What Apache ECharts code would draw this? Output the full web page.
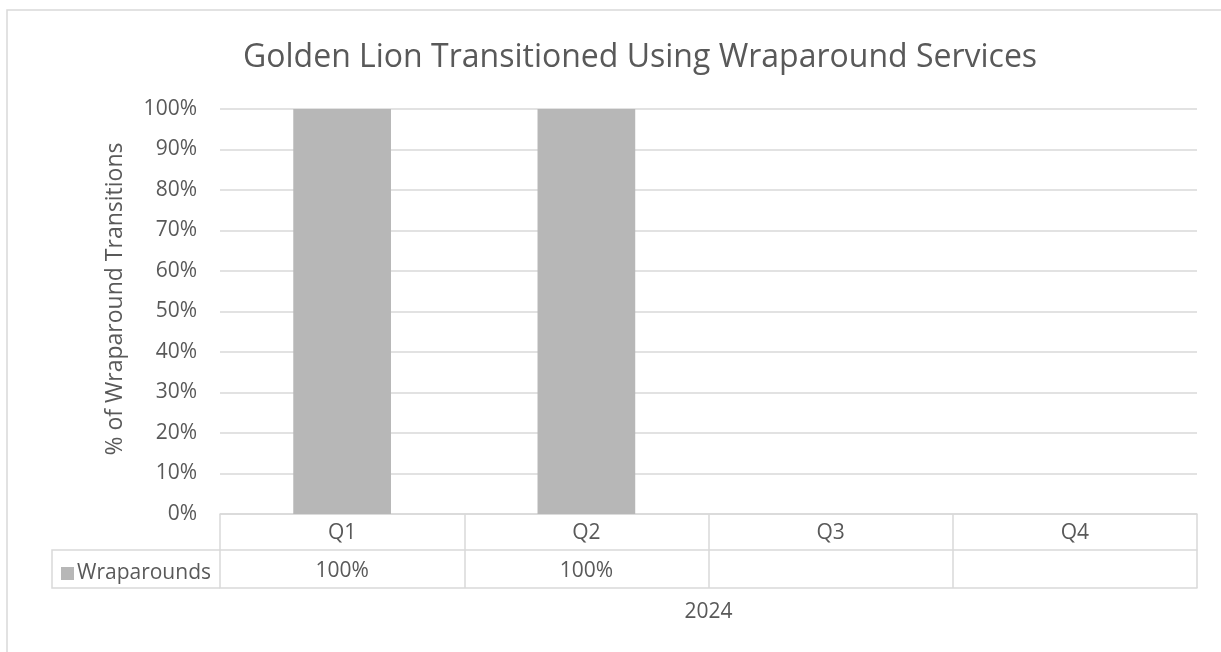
<!DOCTYPE html>
<html>
<head>
<meta charset="utf-8">
<script src="https://cdn.jsdelivr.net/npm/echarts@6/dist/echarts.min.js"></script>
<style>
html,body{margin:0;padding:0;background:#fff;}
#c{width:1221px;height:652px;}
</style>
</head>
<body>
<div id="c"></div>
<script>
const titleText = 'Golden Lion Transitioned Using Wraparound Services';
const categories = ['Q1', 'Q2', 'Q3', 'Q4'];
const seriesName = 'Wraparounds';
const wraparoundValues = [100, 100, null, null];
const yTicks = [0, 10, 20, 30, 40, 50, 60, 70, 80, 90, 100];
const groupLabel = '2024';
const yAxisTitle = '% of Wraparound Transitions';

const FONT = '"Open Sans", sans-serif';
const TXT = '#595959';
const LINE = '#d9d9d9';

const tableLabels = wraparoundValues.map(v => v == null ? '' : v + '%');

const chart = echarts.init(document.getElementById('c'), null, {renderer: 'canvas'});
chart.setOption({
  backgroundColor: '#fff',
  animation: false,
  textStyle: {fontFamily: FONT},
  title: {
    text: titleText,
    left: 243,
    top: 42,
    padding: 0,
    textStyle: {fontFamily: FONT, fontSize: 32, fontWeight: 'normal', color: TXT}
  },
  legend: {
    left: 56,
    top: 558,
    itemWidth: 13,
    itemHeight: 13,
    icon: 'rect',
    itemGap: 0,
    textStyle: {fontFamily: FONT, fontSize: 21, color: TXT, padding: [0, 0, 0, -2]},
    data: [seriesName]
  },
  grid: {left: 220, right: 24, top: 109, bottom: 138, containLabel: false},
  xAxis: [
    {
      type: 'category',
      data: categories,
      position: 'bottom',
      axisLine: {show: true, lineStyle: {color: LINE, width: 1.5}},
      axisTick: {show: true, interval: 0, length: 74, lineStyle: {color: LINE, width: 1.5}},
      axisLabel: {interval: 0, margin: 9, fontSize: 21, color: TXT, fontFamily: FONT}
    },
    {
      type: 'category',
      data: tableLabels,
      position: 'bottom',
      offset: 36,
      axisLine: {show: true, lineStyle: {color: LINE, width: 1.5}},
      axisTick: {show: false},
      axisLabel: {interval: 0, margin: 11, fontSize: 21, color: TXT, fontFamily: FONT}
    },
    {
      type: 'category',
      data: categories,
      position: 'bottom',
      offset: 74,
      axisLine: {show: true, lineStyle: {color: LINE, width: 1.5}},
      axisTick: {show: false},
      axisLabel: {show: false},
      name: groupLabel,
      nameLocation: 'middle',
      nameGap: 14,
      nameTextStyle: {fontSize: 21, color: TXT, fontFamily: FONT}
    }
  ],
  yAxis: {
    type: 'value',
    min: yTicks[0],
    max: yTicks[yTicks.length - 1],
    interval: yTicks[1] - yTicks[0],
    axisLine: {show: false},
    axisTick: {show: false},
    axisLabel: {formatter: '{value}%', fontSize: 21, color: TXT, margin: 23, fontFamily: FONT},
    splitLine: {lineStyle: {color: LINE, width: 1.5}},
    name: yAxisTitle,
    nameLocation: 'middle',
    nameGap: 93,
    nameTextStyle: {fontSize: 23, color: TXT, fontFamily: FONT, padding: [0, 0, 0, 25]}
  },
  series: [{
    name: seriesName,
    type: 'bar',
    data: wraparoundValues,
    barWidth: '40%',
    itemStyle: {color: '#b7b7b7'}
  }],
  graphic: [
    {type: 'rect', shape: {x: 7, y: 10, width: 1300, height: 800}, style: {fill: null, stroke: LINE, lineWidth: 1.5}, silent: true, z: -1},
    {type: 'polyline', shape: {points: [[220, 550], [52, 550], [52, 588], [220, 588]]}, style: {fill: null, stroke: LINE, lineWidth: 1.5}, silent: true}
  ]
});
</script>
</body>
</html>
